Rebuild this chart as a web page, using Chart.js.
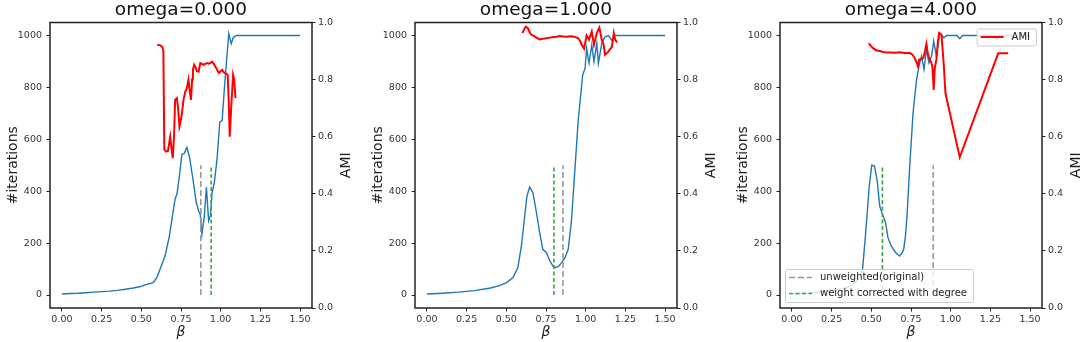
<!DOCTYPE html>
<html>
<head>
<meta charset="utf-8">
<script src="https://cdn.jsdelivr.net/npm/chart.js@4.4.0/dist/chart.umd.min.js"></script>
<style>
  html, body { margin: 0; padding: 0; background: #fff; overflow: hidden; }
  #wrap { position: relative; width: 1087px; height: 342px; overflow: hidden; }
  .panel { position: absolute; top: 0; width: 362px; height: 342px; }
</style>
</head>
<body>
<div id="wrap">
  <div class="panel" style="left:0px"><canvas id="c0" width="362" height="342"></canvas></div>
  <div class="panel" style="left:365px"><canvas id="c1" width="362" height="342"></canvas></div>
  <div class="panel" style="left:730px"><canvas id="c2" width="362" height="342"></canvas></div>
</div>
<script>
// three panels: #iterations (left axis, blue) and AMI (right axis, red) against beta

const titles = ['omega=0.000', 'omega=1.000', 'omega=4.000'];
const betaTicks = [0, 0.25, 0.5, 0.75, 1.0, 1.25, 1.5];
const iterTicks = [0, 200, 400, 600, 800, 1000];
const amiTicks = [0, 0.2, 0.4, 0.6, 0.8, 1.0];

// omega = 0
const beta0 = [0, 0.05, 0.10, 0.15, 0.20, 0.25, 0.30, 0.35, 0.40, 0.45, 0.49, 0.53, 0.576, 0.60, 0.618, 0.65, 0.677, 0.70, 0.713, 0.725, 0.74, 0.756, 0.77, 0.787, 0.804, 0.825, 0.846, 0.861, 0.871, 0.882, 0.897, 0.91, 0.924, 0.935, 0.946, 0.96, 0.977, 0.994, 1.009, 1.023, 1.036, 1.051, 1.066, 1.08, 1.10, 1.2, 1.3, 1.4, 1.5];
const iters0 = [4, 6, 7, 9, 11, 13, 15, 18, 22, 27, 32, 40, 48, 70, 99, 151, 228, 320, 370, 390, 460, 543, 545, 569, 530, 447, 357, 324, 311, 234, 305, 415, 286, 305, 395, 434, 524, 666, 672, 794, 897, 1007, 968, 993, 1000, 1000, 1000, 1000, 1000];
const amiBeta0 = [0.60, 0.62, 0.632, 0.639, 0.645, 0.656, 0.668, 0.682, 0.69, 0.698, 0.706, 0.713, 0.724, 0.732, 0.74, 0.748, 0.756, 0.766, 0.777, 0.787, 0.797, 0.805, 0.813, 0.82, 0.825, 0.833, 0.84, 0.85, 0.861, 0.872, 0.882, 0.892, 0.903, 0.914, 0.925, 0.935, 0.946, 0.956, 0.966, 0.977, 0.988, 0.998, 1.009, 1.019, 1.03, 1.044, 1.051, 1.057, 1.066, 1.078, 1.085, 1.093];
const ami0 = [0.922, 0.92, 0.915, 0.90, 0.555, 0.548, 0.55, 0.60, 0.56, 0.525, 0.60, 0.729, 0.735, 0.70, 0.636, 0.655, 0.683, 0.73, 0.758, 0.77, 0.80, 0.76, 0.729, 0.80, 0.834, 0.852, 0.845, 0.83, 0.828, 0.858, 0.855, 0.852, 0.855, 0.858, 0.856, 0.858, 0.863, 0.855, 0.846, 0.835, 0.823, 0.828, 0.834, 0.826, 0.822, 0.817, 0.72, 0.60, 0.70, 0.817, 0.80, 0.735];

// omega = 1
const beta1 = [0, 0.1, 0.2, 0.3, 0.4, 0.45, 0.5, 0.542, 0.573, 0.595, 0.616, 0.63, 0.647, 0.668, 0.69, 0.71, 0.73, 0.753, 0.774, 0.795, 0.81, 0.827, 0.848, 0.869, 0.89, 0.911, 0.932, 0.953, 0.981, 0.996, 1.006, 1.021, 1.038, 1.052, 1.07, 1.08, 1.101, 1.122, 1.143, 1.165, 1.186, 1.25, 1.35, 1.5];
const iters1 = [4, 7, 11, 17, 27, 35, 47, 67, 106, 189, 304, 381, 416, 394, 317, 240, 176, 163, 131, 111, 106, 109, 124, 143, 176, 291, 483, 675, 848, 873, 950, 893, 963, 899, 969, 893, 969, 995, 1000, 981, 1000, 1000, 1000, 1000];
const amiBeta1 = [0.601, 0.612, 0.622, 0.636, 0.648, 0.658, 0.675, 0.69, 0.71, 0.73, 0.753, 0.775, 0.795, 0.815, 0.837, 0.86, 0.88, 0.9, 0.922, 0.94, 0.953, 0.965, 0.975, 0.99, 1.006, 1.021, 1.038, 1.052, 1.07, 1.086, 1.101, 1.112, 1.122, 1.143, 1.165, 1.177, 1.186, 1.197];
const ami1 = [0.963, 0.975, 0.985, 0.98, 0.965, 0.957, 0.952, 0.947, 0.941, 0.943, 0.945, 0.947, 0.949, 0.95, 0.953, 0.951, 0.95, 0.952, 0.951, 0.948, 0.945, 0.935, 0.922, 0.908, 0.955, 0.94, 0.968, 0.922, 0.963, 0.982, 0.94, 0.925, 0.887, 0.898, 0.915, 0.963, 0.94, 0.93];

// omega = 4
const beta2 = [0, 0.1, 0.2, 0.3, 0.35, 0.4, 0.43, 0.445, 0.466, 0.487, 0.503, 0.52, 0.536, 0.553, 0.574, 0.59, 0.605, 0.626, 0.654, 0.679, 0.694, 0.704, 0.715, 0.725, 0.742, 0.763, 0.784, 0.8, 0.816, 0.832, 0.847, 0.863, 0.879, 0.893, 0.91, 0.931, 0.957, 0.974, 1.04, 1.057, 1.074, 1.28, 1.29, 1.30, 1.5];
const iters2 = [4, 8, 13, 22, 30, 48, 72, 99, 250, 420, 500, 497, 445, 343, 304, 278, 221, 188, 163, 150, 163, 176, 227, 304, 497, 702, 824, 882, 920, 869, 946, 895, 920, 978, 920, 1010, 991, 1000, 1000, 988, 1000, 1000, 985, 1000, 1000];
const amiBeta2 = [0.484, 0.497, 0.511, 0.53, 0.553, 0.575, 0.595, 0.62, 0.65, 0.679, 0.71, 0.742, 0.758, 0.774, 0.785, 0.794, 0.802, 0.81, 0.827, 0.838, 0.847, 0.855, 0.862, 0.879, 0.886, 0.893, 0.9, 0.91, 0.92, 0.927, 0.942, 0.95, 0.957, 0.967, 1.057, 1.299, 1.362];
const ami2 = [0.927, 0.918, 0.91, 0.903, 0.90, 0.897, 0.895, 0.895, 0.894, 0.896, 0.893, 0.893, 0.888, 0.875, 0.86, 0.846, 0.87, 0.87, 0.875, 0.90, 0.925, 0.895, 0.88, 0.857, 0.84, 0.764, 0.84, 0.87, 0.935, 0.963, 0.957, 0.9, 0.846, 0.752, 0.528, 0.892, 0.892];

// vertical markers (beta) and their height on the iterations axis
const unweightedBeta = [0.875, 0.857, 0.89];
const correctedBeta = [0.94, 0.80, 0.57];
const markerSpan = [0, 500];

const betas = [beta0, beta1, beta2];
const iters = [iters0, iters1, iters2];
const amiBetas = [amiBeta0, amiBeta1, amiBeta2];
const amis = [ami0, ami1, ami2];

const FAMILY = '"DejaVu Sans", sans-serif';
const tickFont = { family: FAMILY, size: 9.5 };

function zip(xs, ys) {
  return xs.map((x, i) => ({ x: x, y: ys[i] }));
}

// frame, right axis label and in-axes legends
const extras = {
  id: 'extras',
  afterDatasetsDraw(chart, args, opts) {
    const ctx = chart.ctx;
    const ca = chart.chartArea;
    ctx.save();
    ctx.strokeStyle = '#222';
    ctx.lineWidth = 1.5;
    ctx.strokeRect(ca.left, ca.top, ca.right - ca.left, ca.bottom - ca.top);

    ctx.save();
    ctx.translate(ca.right + 34, (ca.top + ca.bottom) / 2);
    ctx.rotate(-Math.PI / 2);
    ctx.font = '14px ' + FAMILY;
    ctx.fillStyle = '#222';
    ctx.textAlign = 'center';
    ctx.textBaseline = 'middle';
    ctx.fillText('AMI', 0, 0);
    ctx.restore();

    (opts.legends || []).forEach(lg => {
      ctx.font = '10px ' + FAMILY;
      const items = lg.items.map(i => chart.data.datasets[i]);
      const textW = Math.max.apply(null, items.map(d => ctx.measureText(d.label).width));
      const rowH = 16;
      const w = 4 + 23 + 8 + textW + 6;
      const h = rowH * items.length + 1;
      const x = lg.side === 'left' ? ca.left + 5 : ca.right - 6 - w;
      const y = lg.vert === 'bottom' ? ca.bottom - 6 - h : ca.top + 6;
      ctx.fillStyle = 'rgba(255,255,255,0.8)';
      ctx.strokeStyle = '#cccccc';
      ctx.lineWidth = 1;
      ctx.beginPath();
      ctx.roundRect(x + 0.5, y + 0.5, w, h, 2);
      ctx.fill();
      ctx.stroke();
      items.forEach((d, k) => {
        const cy = y + 8.5 + k * rowH;
        ctx.save();
        ctx.strokeStyle = d.borderColor;
        ctx.lineWidth = d.borderWidth;
        ctx.setLineDash(d.borderDash || []);
        ctx.beginPath();
        ctx.moveTo(x + 4, cy);
        ctx.lineTo(x + 27, cy);
        ctx.stroke();
        ctx.restore();
        ctx.fillStyle = '#222';
        ctx.textAlign = 'left';
        ctx.textBaseline = 'middle';
        ctx.fillText(d.label, x + 35, cy);
      });
    });
    ctx.restore();
  }
};

function makeChart(p) {
  const datasets = [
    {
      label: 'AMI', yAxisID: 'y2', order: 0,
      data: zip(amiBetas[p], amis[p]),
      borderColor: '#ff0000', borderWidth: 2
    },
    {
      label: 'weight corrected with degree', yAxisID: 'y', order: 1,
      data: zip([correctedBeta[p], correctedBeta[p]], markerSpan),
      borderColor: '#3aa63a', borderWidth: 1.6, borderDash: [4, 2.5]
    },
    {
      label: 'unweighted(original)', yAxisID: 'y', order: 2,
      data: zip([unweightedBeta[p], unweightedBeta[p]], markerSpan),
      borderColor: '#999999', borderWidth: 1.6, borderDash: [6, 3]
    },
    {
      label: '#iterations', yAxisID: 'y', order: 3,
      data: zip(betas[p], iters[p]),
      borderColor: '#1f77b4', borderWidth: 1.4
    }
  ];

  const legends = p === 2 ? [
    { items: [2, 1], side: 'left', vert: 'bottom' },
    { items: [0], side: 'right', vert: 'top' }
  ] : [];

  return new Chart(document.getElementById('c' + p), {
    type: 'line',
    data: { datasets: datasets },
    plugins: [extras],
    options: {
      responsive: false,
      animation: false,
      events: [],
      layout: { padding: 0 },
      elements: { point: { radius: 0 }, line: { tension: 0, fill: false } },
      plugins: {
        legend: { display: false },
        tooltip: { enabled: false },
        title: {
          display: true, text: titles[p], color: '#111',
          font: { family: FAMILY, size: 18.5, weight: 'normal', lineHeight: 1 },
          padding: { top: 1, bottom: 3 }
        },
        extras: { legends: legends }
      },
      scales: {
        x: {
          type: 'linear', min: -0.075, max: 1.575,
          afterBuildTicks: s => { s.ticks = betaTicks.map(v => ({ value: v })); },
          afterFit: s => { s.height = 34; },
          ticks: { callback: v => v.toFixed(2), font: tickFont, color: '#333', padding: 2, maxRotation: 0, autoSkip: false },
          grid: { drawOnChartArea: false, tickLength: 3.5, color: '#222', tickWidth: 1 },
          border: { display: false },
          title: { display: true, text: 'β', color: '#222', font: { family: FAMILY, size: 14, style: 'italic' }, padding: { top: 0, bottom: 1 } }
        },
        y: {
          type: 'linear', position: 'left', min: -50, max: 1050,
          afterBuildTicks: s => { s.ticks = iterTicks.map(v => ({ value: v })); },
          afterFit: s => { s.width = 50; },
          ticks: { callback: v => String(v), font: tickFont, color: '#333', padding: 4.5 },
          grid: { drawOnChartArea: false, tickLength: 3.5, color: '#222', tickWidth: 1 },
          border: { display: false },
          title: { display: true, text: '#iterations', color: '#222', font: { family: FAMILY, size: 14 }, padding: { top: 4.6, bottom: 0 } }
        },
        y2: {
          type: 'linear', position: 'right', min: 0, max: 1,
          afterBuildTicks: s => { s.ticks = amiTicks.map(v => ({ value: v })); },
          afterFit: s => { s.width = 50; },
          ticks: { callback: v => v.toFixed(1), font: tickFont, color: '#333', padding: 2.5 },
          grid: { drawOnChartArea: false, tickLength: 3.5, color: '#222', tickWidth: 1 },
          border: { display: false }
        }
      }
    }
  });
}

[0, 1, 2].forEach(makeChart);
</script>
</body>
</html>
